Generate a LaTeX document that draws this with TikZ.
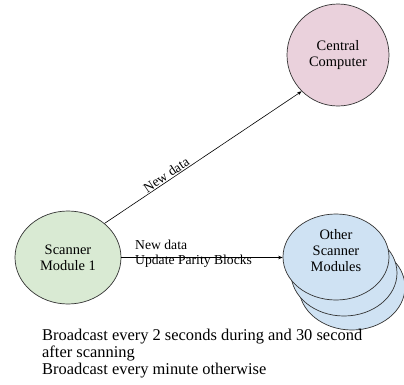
\documentclass[tikz,border=0pt]{standalone}
\usepackage{fontspec}
\setmainfont{Liberation Serif}
\usetikzlibrary{shapes.geometric, arrows.meta}
\definecolor{pinkfill}{HTML}{EAD1DC}
\definecolor{greenfill}{HTML}{D9EAD3}
\definecolor{bluefill}{HTML}{CFE2F3}
\definecolor{linec}{HTML}{333333}
\begin{document}
\begin{tikzpicture}[x=1bp,y=-1bp,
  bubble/.style={ellipse, draw=linec, line width=0.7bp, inner sep=0pt, align=center,
    font=\fontsize{14.5}{16}\selectfont},
  conn/.style={-{Stealth[length=4.5bp,width=3.5bp]}, line width=0.6bp, draw=black},
  lbl/.style={inner sep=0pt, align=left, font=\fontsize{13.7}{15.5}\selectfont},
  note/.style={inner sep=0pt, align=left, font=\fontsize{16.5}{17.3}\selectfont}]
\useasboundingbox (0,0) rectangle (404,385);
% central computer
\node[bubble, fill=pinkfill, minimum width=102bp, minimum height=102bp] (cc) at (338,55) {Central\\Computer};
% scanner module
\node[bubble, fill=greenfill, minimum width=106bp, minimum height=93bp] (scan) at (68,257.5) {Scanner\\Module 1};
% other scanner modules (stack)
\node[bubble, fill=bluefill, minimum width=106bp, minimum height=86bp] (other3) at (352,287) {};
\node[bubble, fill=bluefill, minimum width=106bp, minimum height=86bp] (other2) at (344,273) {};
\node[bubble, fill=bluefill, minimum width=106bp, minimum height=86bp, text depth=13bp] (other) at (336,257) {Other\\Scanner\\Modules};
% connectors
\draw[conn] (scan.43) -- node[sloped, above, inner sep=1bp, pos=0.33, font=\fontsize{13.7}{15.5}\selectfont] (diaglbl) {New data} (cc.225);
\draw[conn] (scan.east) -- (scan.east -| other.west);
\node[lbl, anchor=north west] (hlbl) at (135,239.6) {New data\\Update Parity Blocks};
% note
\node[note, anchor=north west] (notes) at (42,328.7) {Broadcast every 2 seconds during and 30 second\\after scanning\\Broadcast every minute otherwise};
\end{tikzpicture}
\end{document}
